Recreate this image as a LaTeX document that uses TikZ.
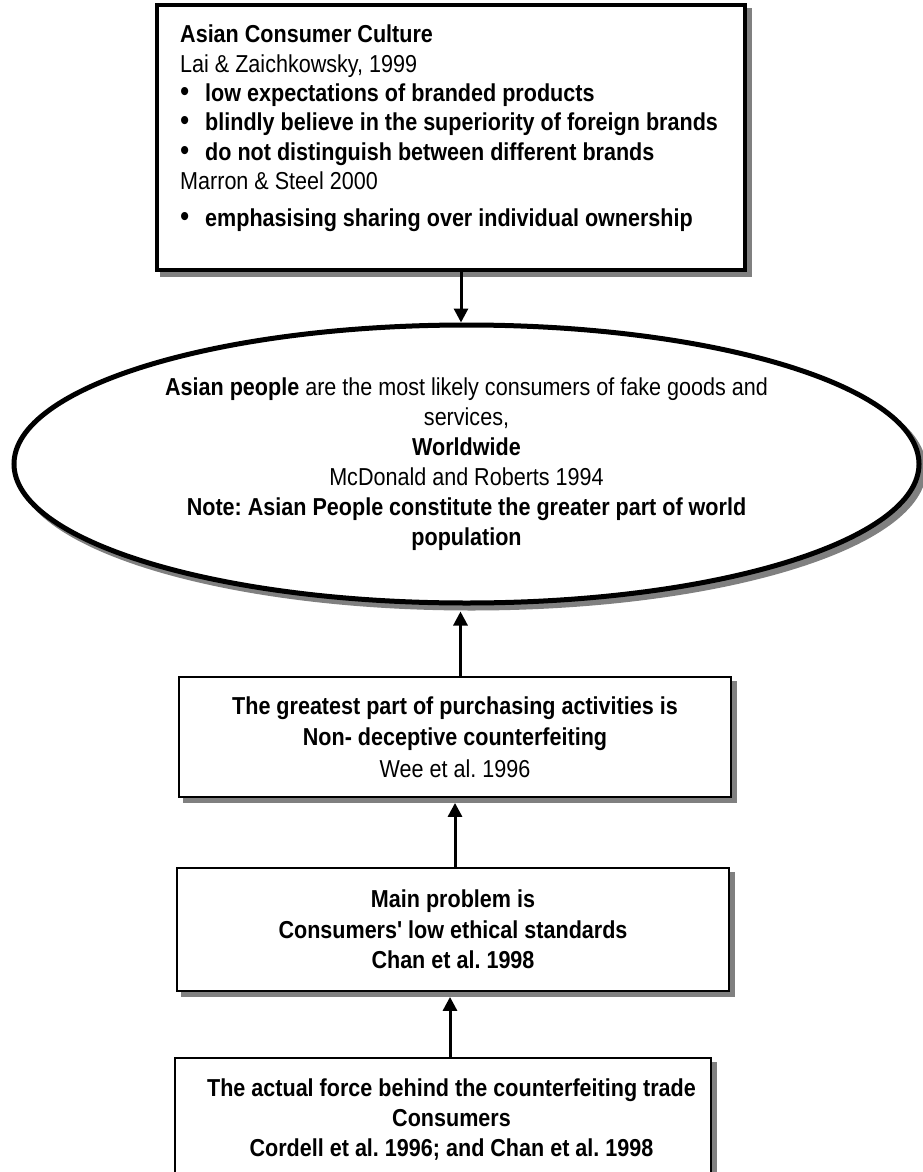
\documentclass[tikz,border=0pt]{standalone}
\usepackage{fontspec}
\newfontfamily\lsans[FakeStretch=0.88]{Liberation Sans}
\usetikzlibrary{arrows.meta,shadows,shapes.geometric}
\definecolor{shadowgray}{HTML}{808080}
\newcommand{\bulletitem}[1]{\makebox[25pt][l]{{\fontsize{30}{29}\selectfont\textbullet}}\textbf{#1}}
\frenchspacing
\begin{document}
\begin{tikzpicture}[x=1pt,y=-1pt,
  font=\lsans\frenchspacing\fontsize{24.5}{30}\selectfont,
  shad/.style={drop shadow={shadow xshift=5pt,shadow yshift=-5pt,fill=shadowgray,draw=shadowgray,opacity=1}},
  thickbox/.style={draw=black,line width=3.5pt,fill=white,shad,inner sep=0pt},
  thinbox/.style={draw=black,line width=1.8pt,fill=white,shad,inner sep=0pt,align=center},
  oval/.style={ellipse,draw=black,line width=5pt,fill=white,shad,inner sep=0pt,align=center},
  arr/.style={line width=3pt,-{Triangle[width=14pt,length=14pt]}},
  txt/.style={inner sep=0pt}]
\useasboundingbox (0,0) rectangle (922,1172);
\fill[white] (0,0) rectangle (922,1172);

% top box
\node[thickbox,minimum width=588pt,minimum height=265pt] (b1) at (451,137.5) {};
\node[txt,anchor=north west,align=left,font=\lsans\frenchspacing\fontsize{24.5}{29.3}\selectfont] (t1) at (180,25)
  {\textbf{Asian Consumer Culture}\\
   Lai \& Zaichkowsky, 1999\\
   \bulletitem{low expectations of branded products}\\
   \bulletitem{blindly believe in the superiority of foreign brands}\\
   \bulletitem{do not distinguish between different brands}\\
   Marron \& Steel 2000\\[7.7pt]
   \bulletitem{emphasising sharing over individual ownership}};

% ellipse
\node[oval,minimum width=905pt,minimum height=278pt] (e) at (466.5,464)
  {\textbf{Asian people} are the most likely consumers of fake goods and\\
   services,\\
   \textbf{Worldwide}\\
   McDonald and Roberts 1994\\
   \textbf{Note: Asian People constitute the greater part of world}\\
   \textbf{population}};

% box 2
\node[thinbox,minimum width=552pt,minimum height=120pt,font=\lsans\frenchspacing\fontsize{24.5}{31.5}\selectfont] (b2) at (455,737)
  {\textbf{The greatest part of purchasing activities is}\\
   \textbf{Non- deceptive counterfeiting}\\
   Wee et al. 1996};

% box 3
\node[thinbox,minimum width=552pt,minimum height=123pt,font=\lsans\frenchspacing\fontsize{24.5}{30.5}\selectfont] (b3) at (453,929.5)
  {\textbf{Main problem is}\\
   \textbf{Consumers' low ethical standards}\\
   \textbf{Chan et al. 1998}};

% box 4
\node[thinbox,minimum width=536pt,minimum height=125pt] (b4) at (443,1120.5) {};
\node[txt,anchor=north,align=center] (t4) at (451.5,1079)
  {\textbf{The actual force behind the counterfeiting trade}\\
   \textbf{Consumers}\\
   \textbf{Cordell et al. 1996; and Chan et al. 1998}};

% connectors
\coordinate (a1) at ([xshift=-5.5pt]e.north);
\draw[arr] (a1 |- b1.south) -- (a1);
\coordinate (a2) at ([xshift=-6pt]e.south);
\draw[arr] (a2 |- b2.north) -- ([yshift=-6pt]a2);
\draw[arr] (b2.south |- b3.north) -- ([yshift=-5pt]b2.south);
\coordinate (a4) at ([xshift=-3pt]b3.south);
\draw[arr] (a4 |- b4.north) -- ([yshift=-5pt]a4);
\end{tikzpicture}
\end{document}
